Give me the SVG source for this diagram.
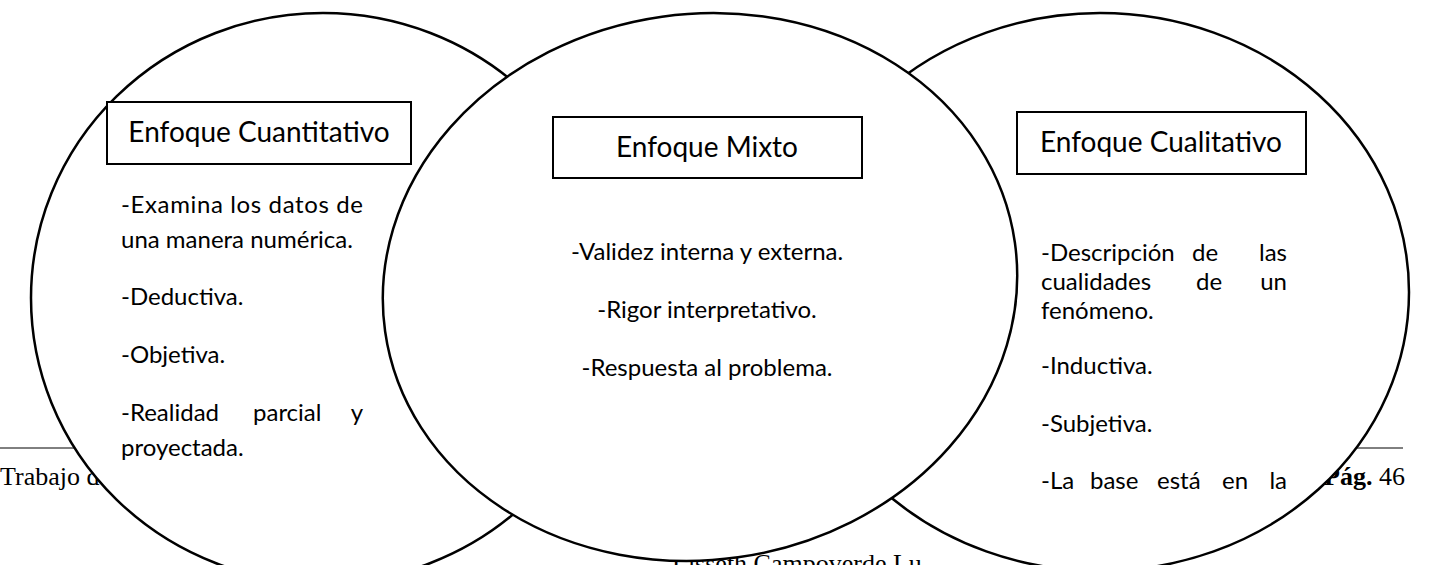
<svg xmlns="http://www.w3.org/2000/svg" width="1429" height="565" viewBox="0 0 1429 565">
<style>
.ell{fill:#fff;stroke:#000;stroke-width:2.5}
.box{fill:#fff;stroke:#000;stroke-width:2}
.h{font-family:Lato,"Open Sans",sans-serif;font-size:28px;fill:#000;text-anchor:middle}
.t{font-family:Lato,"Open Sans",sans-serif;font-size:24px;fill:#000}
.c{text-anchor:middle}
.f{font-family:"Liberation Serif",serif;font-size:26px;fill:#000}
</style>
<rect width="1429" height="565" fill="#fff"/>
<g id="footer">
<line x1="0" y1="448" x2="1403" y2="448" stroke="#000" stroke-width="1"/>
<text class="f" x="0" y="485">Trabajo d</text>
<text class="f" x="1405" y="485" text-anchor="end"><tspan font-weight="bold">Pág.</tspan> 46</text>
<text class="f" x="672" y="572" font-size="28">Lisseth Campoverde Lu</text>
</g>
<g id="cuantitativo">
<ellipse class="ell" cx="323" cy="298" rx="292" ry="285"/>
<rect class="box" x="107" y="102" width="304" height="62"/>
<text class="h" x="259" y="142">Enfoque Cuantitativo</text>
<text class="t" x="121" y="213" textLength="242" lengthAdjust="spacing">-Examina los datos de</text>
<text class="t" x="121" y="248">una manera numérica.</text>
<text class="t" x="121" y="305">-Deductiva.</text>
<text class="t" x="121" y="363">-Objetiva.</text>
<text class="t" y="421"><tspan x="121">-Realidad</tspan><tspan x="253">parcial</tspan><tspan x="363" text-anchor="end">y</tspan></text>
<text class="t" x="121" y="456">proyectada.</text>
</g>
<g id="cualitativo">
<ellipse class="ell" cx="1100" cy="292" rx="309" ry="279"/>
<rect class="box" x="1017" y="112" width="289" height="62"/>
<text class="h" x="1161" y="152">Enfoque Cualitativo</text>
<text class="t" y="261"><tspan x="1041">-Descripción</tspan><tspan x="1192">de</tspan><tspan x="1287" text-anchor="end">las</tspan></text>
<text class="t" y="290"><tspan x="1041">cualidades</tspan><tspan x="1196">de</tspan><tspan x="1287" text-anchor="end">un</tspan></text>
<text class="t" x="1041" y="319">fenómeno.</text>
<text class="t" x="1041" y="374">-Inductiva.</text>
<text class="t" x="1041" y="432">-Subjetiva.</text>
<text class="t" y="489"><tspan x="1041">-La</tspan><tspan x="1090">base</tspan><tspan x="1157">está</tspan><tspan x="1222">en</tspan><tspan x="1287" text-anchor="end">la</tspan></text>
</g>
<g id="mixto">
<ellipse class="ell" cx="700" cy="287" rx="318" ry="273" transform="rotate(-8 700 287)"/>
<rect class="box" x="553" y="117" width="309" height="61"/>
<text class="h" x="707" y="157">Enfoque Mixto</text>
<text class="t c" x="707" y="260">-Validez interna y externa.</text>
<text class="t c" x="707" y="318">-Rigor interpretativo.</text>
<text class="t c" x="707" y="376">-Respuesta al problema.</text>
</g>
</svg>
